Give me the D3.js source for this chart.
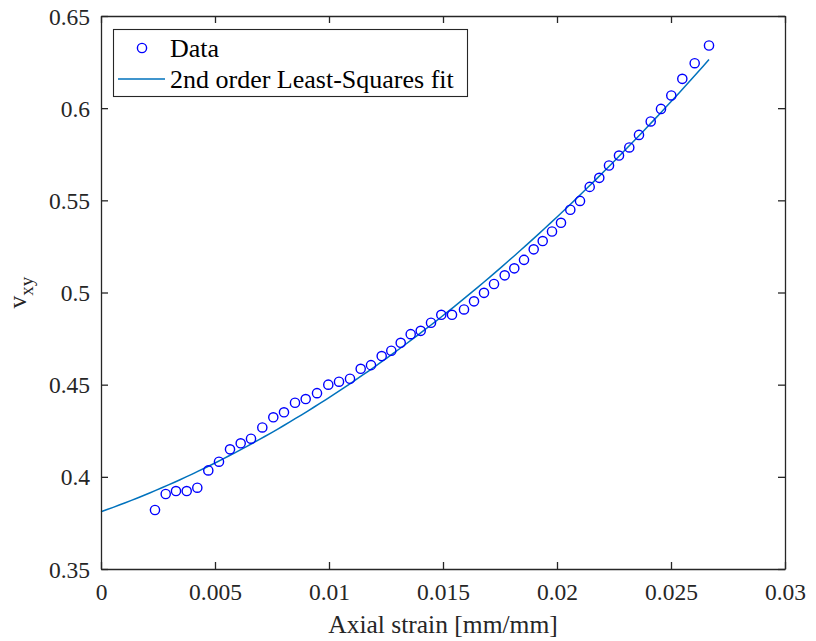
<!DOCTYPE html>
<html>
<head>
<meta charset="utf-8">
<script src="https://cdn.jsdelivr.net/npm/d3@7"></script>
<style>
  html, body { margin: 0; padding: 0; background: #fff; }
  svg { display: block; }
  text { font-family: "Liberation Serif", "Times New Roman", serif; }
</style>
</head>
<body>
<div id="chart"></div>
<script>
// ---------- data ----------
const strain = [
  0.002368, 0.002838, 0.003289, 0.003759, 0.004224, 0.004706, 0.005175, 0.005658,
  0.006127, 0.006579, 0.007075, 0.007557, 0.008026, 0.008509, 0.008978, 0.009474,
  0.009969, 0.010439, 0.010921, 0.011390, 0.011842, 0.012311, 0.012732, 0.013145,
  0.013583, 0.014022, 0.014474, 0.014925, 0.015395, 0.015921, 0.016360, 0.016798,
  0.017237, 0.017706, 0.018127, 0.018553, 0.018978, 0.019373, 0.019781, 0.020175,
  0.020583, 0.021009, 0.021434, 0.021855, 0.022281, 0.022719, 0.023171, 0.023596,
  0.024110, 0.024561, 0.025013, 0.025496, 0.026039, 0.026667
];
const vxy = [
  0.3820, 0.3907, 0.3923, 0.3923, 0.3941, 0.4035, 0.4082, 0.4149,
  0.4182, 0.4207, 0.4268, 0.4323, 0.4350, 0.4402, 0.4422, 0.4454,
  0.4500, 0.4516, 0.4532, 0.4586, 0.4606, 0.4655, 0.4684, 0.4727,
  0.4774, 0.4792, 0.4836, 0.4879, 0.4879, 0.4908, 0.4952, 0.4998,
  0.5046, 0.5093, 0.5131, 0.5177, 0.5234, 0.5279, 0.5331, 0.5378,
  0.5449, 0.5497, 0.5573, 0.5622, 0.5689, 0.5743, 0.5787, 0.5855,
  0.5928, 0.5996, 0.6069, 0.6159, 0.6244, 0.6340
];
const xTicks = [0, 0.005, 0.01, 0.015, 0.02, 0.025, 0.03];
const xTickLabels = ["0", "0.005", "0.01", "0.015", "0.02", "0.025", "0.03"];
const yTicks = [0.35, 0.4, 0.45, 0.5, 0.55, 0.6, 0.65];
const yTickLabels = ["0.35", "0.4", "0.45", "0.5", "0.55", "0.6", "0.65"];
const legendLabels = ["Data", "2nd order Least-Squares fit"];
const xLabel = "Axial strain [mm/mm]";

// ---------- 2nd order least squares fit computed from the data ----------
function polyfit2(xs, ys) {
  let S = [0,0,0,0,0], T = [0,0,0];
  for (let i = 0; i < xs.length; i++) {
    let p = 1;
    for (let k = 0; k < 5; k++) { S[k] += p; if (k < 3) T[k] += p * ys[i]; p *= xs[i]; }
  }
  const A = [[S[0],S[1],S[2],T[0]],[S[1],S[2],S[3],T[1]],[S[2],S[3],S[4],T[2]]];
  for (let c = 0; c < 3; c++) {
    let piv = c;
    for (let r = c+1; r < 3; r++) if (Math.abs(A[r][c]) > Math.abs(A[piv][c])) piv = r;
    [A[c], A[piv]] = [A[piv], A[c]];
    for (let r = 0; r < 3; r++) if (r !== c) {
      const f = A[r][c] / A[c][c];
      for (let k = c; k < 4; k++) A[r][k] -= f * A[c][k];
    }
  }
  return [A[0][3]/A[0][0], A[1][3]/A[1][1], A[2][3]/A[2][2]];
}
const coef = polyfit2(strain, vxy);
const fitX = d3.range(0, 101).map(i => i / 100 * strain[strain.length - 1]);
const fitY = fitX.map(x => coef[0] + coef[1]*x + coef[2]*x*x);

// ---------- layout ----------
const W = 816, H = 641;
const L = 101, R = 785, T = 16, B = 569;
const axisColor = "#262626";
const serif = '"Liberation Serif", "Times New Roman", serif';

const svg = d3.select("#chart").append("svg").attr("width", W).attr("height", H)
  .attr("font-family", serif);

const x = d3.scaleLinear().domain([0, 0.03]).range([L, R]);
const y = d3.scaleLinear().domain([0.35, 0.65]).range([B, T]);

// fit line
svg.append("path")
  .datum(fitX.map((v, i) => [v, fitY[i]]))
  .attr("fill", "none")
  .attr("stroke", "#0072BD")
  .attr("stroke-width", 1.5)
  .attr("d", d3.line().x(d => x(d[0])).y(d => y(d[1])));

// data markers
svg.append("g").selectAll("circle")
  .data(strain.map((v, i) => [v, vxy[i]]))
  .join("circle")
  .attr("cx", d => x(d[0]))
  .attr("cy", d => y(d[1]))
  .attr("r", 4.6)
  .attr("fill", "none")
  .attr("stroke", "#0000FF")
  .attr("stroke-width", 1.4);

// axes (box with inward ticks)
const tickLen = 7;
const gx = svg.append("g").attr("transform", `translate(0,${B})`)
  .call(d3.axisBottom(x).tickValues(xTicks).tickFormat((d, i) => xTickLabels[i]).tickSizeInner(-tickLen).tickSizeOuter(0).tickPadding(14));
const gxt = svg.append("g").attr("transform", `translate(0,${T})`)
  .call(d3.axisTop(x).tickValues(xTicks).tickFormat("").tickSizeInner(-tickLen).tickSizeOuter(0));
const gy = svg.append("g").attr("transform", `translate(${L},0)`)
  .call(d3.axisLeft(y).tickValues(yTicks).tickFormat((d, i) => yTickLabels[i]).tickSizeInner(-tickLen).tickSizeOuter(0).tickPadding(11));
const gyr = svg.append("g").attr("transform", `translate(${R},0)`)
  .call(d3.axisRight(y).tickValues(yTicks).tickFormat("").tickSizeInner(-tickLen).tickSizeOuter(0));

[gx, gxt, gy, gyr].forEach(g => {
  g.attr("font-family", serif).attr("font-size", 23.5);
  g.selectAll("path.domain").attr("stroke", axisColor).attr("stroke-width", 1.3);
  g.selectAll(".tick line").attr("stroke", axisColor).attr("stroke-width", 1.3);
  g.selectAll(".tick text").attr("fill", axisColor)
    .attr("font-family", serif).style("font-family", serif).style("font-size", "23.5px");
});
gy.selectAll(".tick text").attr("dy", "0.34em");

// x label
svg.append("text")
  .attr("x", (L + R) / 2).attr("y", 633)
  .attr("text-anchor", "middle")
  .attr("fill", axisColor)
  .style("font-size", "25.5px")
  .text(xLabel);

// y label: v with subscript xy
const yl = svg.append("text")
  .attr("transform", `translate(26,${(T + B) / 2}) rotate(-90)`)
  .attr("text-anchor", "middle")
  .attr("fill", axisColor)
  .style("font-size", "25.5px");
yl.append("tspan").text("v");
yl.append("tspan").attr("dy", 7).style("font-size", "19px").text("xy");

// legend
const lg = svg.append("g");
lg.append("rect")
  .attr("x", 113.5).attr("y", 29.5).attr("width", 354).attr("height", 67)
  .attr("fill", "#fff").attr("stroke", axisColor).attr("stroke-width", 1.1);
lg.append("circle").attr("cx", 142).attr("cy", 48).attr("r", 4.6)
  .attr("fill", "none").attr("stroke", "#0000FF").attr("stroke-width", 1.4);
lg.append("line").attr("x1", 118).attr("x2", 165).attr("y1", 79).attr("y2", 79)
  .attr("stroke", "#0072BD").attr("stroke-width", 1.5);
lg.selectAll("text.lbl").data(legendLabels).join("text")
  .attr("class", "lbl")
  .attr("x", 170)
  .attr("y", (d, i) => [48, 79][i])
  .attr("dy", "0.35em")
  .attr("fill", "#000")
  .style("font-size", "26px")
  .text(d => d);
</script>
</body>
</html>
